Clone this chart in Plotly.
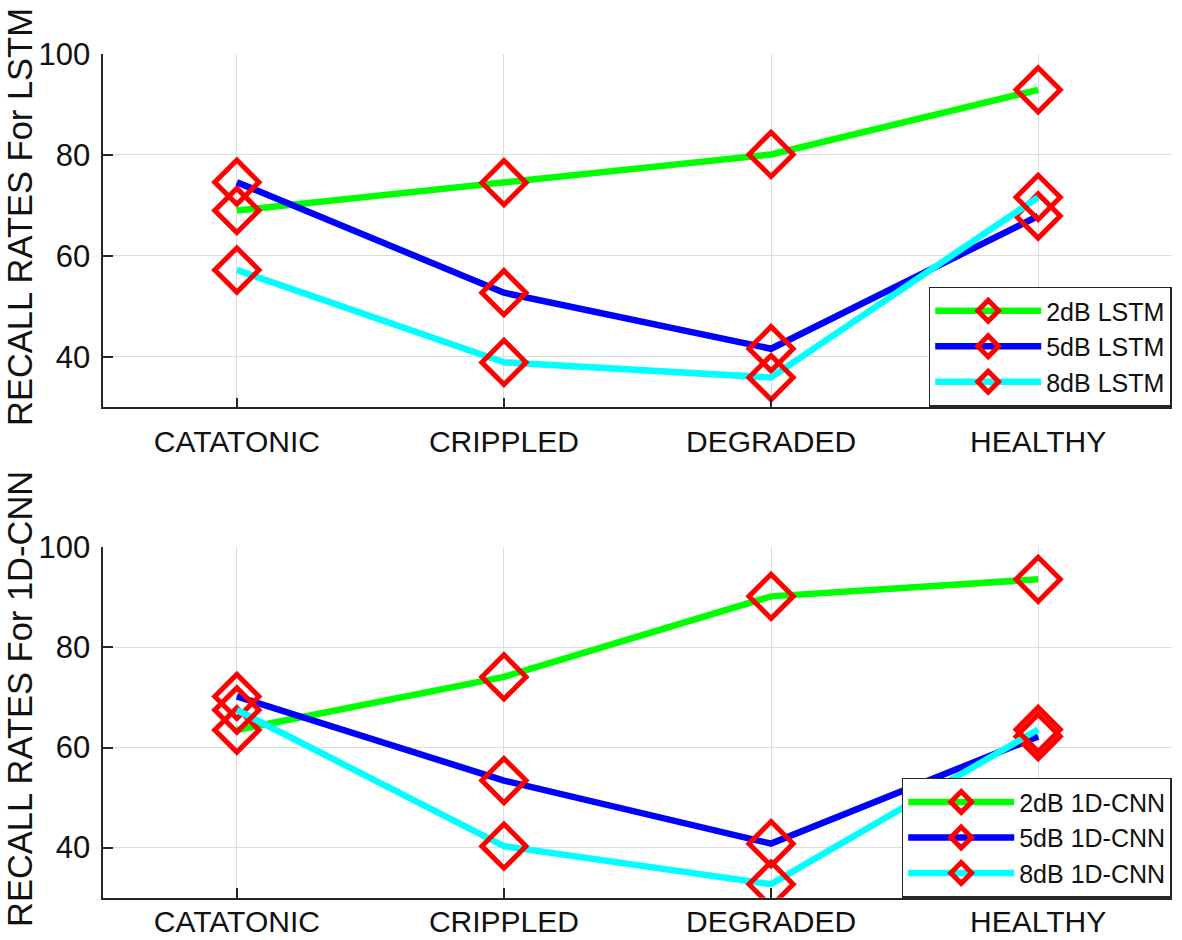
import plotly.graph_objects as go

categories = ["CATATONIC", "CRIPPLED", "DEGRADED", "HEALTHY"]

lstm_2db = [69.0, 74.5, 80.1, 92.9]
lstm_5db = [74.6, 52.7, 41.6, 67.9]
lstm_8db = [57.2, 38.9, 35.9, 71.6]

cnn_2db = [63.5, 74.1, 90.2, 93.6]
cnn_5db = [70.2, 53.4, 40.8, 62.2]
cnn_8db = [67.5, 40.3, 32.7, 63.6]

lstm_names = ["2dB LSTM", "5dB LSTM", "8dB LSTM"]
cnn_names = ["2dB 1D-CNN", "5dB 1D-CNN", "8dB 1D-CNN"]
line_colors = ["#00ff00", "#0000ff", "#00ffff"]

y_ticks = [40, 60, 80, 100]
y_titles = ["RECALL RATES For LSTM", "RECALL RATES For 1D-CNN"]

FONT = "Liberation Sans, Arial, Helvetica, sans-serif"
AX = "#262626"

fig = go.Figure()

for series, name, col in zip([lstm_2db, lstm_5db, lstm_8db], lstm_names, line_colors):
    fig.add_trace(go.Scatter(
        x=categories, y=series, name=name, mode="lines+markers",
        line=dict(color=col, width=6.5),
        marker=dict(symbol="diamond-open", size=34, color="#ff0000",
                    line=dict(width=5, color="#ff0000")),
        xaxis="x", yaxis="y", legend="legend",
    ))

for series, name, col in zip([cnn_2db, cnn_5db, cnn_8db], cnn_names, line_colors):
    fig.add_trace(go.Scatter(
        x=categories, y=series, name=name, mode="lines+markers",
        line=dict(color=col, width=6.5),
        marker=dict(symbol="diamond-open", size=34, color="#ff0000",
                    line=dict(width=5, color="#ff0000")),
        xaxis="x2", yaxis="y2", legend="legend2",
    ))

xdom = [103.3 / 1182, 1171.7 / 1182]
ydom_top = [1 - 407.3 / 940, 1 - 54 / 940]
ydom_bot = [1 - 897.7 / 940, 1 - 547.3 / 940]

xax = dict(
    domain=xdom, type="category", categoryorder="array", categoryarray=categories,
    range=[-0.5, 3.5], showline=True, linecolor=AX, linewidth=1.5,
    ticks="inside", ticklen=10, tickwidth=1.5, tickcolor=AX,
    showgrid=True, gridcolor="#dcdcdc", gridwidth=1.2, zeroline=False,
    tickfont=dict(family=FONT, size=30, color="#111111"),
    ticklabelstandoff=7, automargin=False, fixedrange=True,
)
yax = dict(
    range=[30, 100], tickvals=y_ticks, showline=True, linecolor=AX, linewidth=1.5,
    ticks="inside", ticklen=10, tickwidth=1.5, tickcolor=AX,
    showgrid=True, gridcolor="#dcdcdc", gridwidth=1.2, zeroline=False,
    tickfont=dict(family=FONT, size=31, color="#111111"),
    ticklabelstandoff=5, automargin=False, fixedrange=True,
)

legend_style = dict(
    font=dict(family=FONT, size=25, color="#111111"),
    bgcolor="white", bordercolor=AX, borderwidth=1.5,
    xanchor="right", yanchor="bottom", itemwidth=106,
    tracegroupgap=0,
)

fig.update_layout(
    width=1182, height=940,
    margin=dict(l=0, r=0, t=0, b=0),
    paper_bgcolor="white", plot_bgcolor="white",
    showlegend=True,
    xaxis=dict(xax, anchor="y"),
    yaxis=dict(yax, domain=ydom_top, anchor="x"),
    xaxis2=dict(xax, anchor="y2", ticklabelstandoff=-3),
    yaxis2=dict(yax, domain=ydom_bot, anchor="x2"),
    legend=dict(legend_style, x=1171.7 / 1182, y=1 - 406.5 / 940),
    legend2=dict(legend_style, x=1171.7 / 1182, y=1 - 897.7 / 940),
)

title_centers = [1 - 217 / 940, 1 - 699 / 940]
for txt, yc in zip(y_titles, title_centers):
    fig.add_annotation(
        text=txt, xref="paper", yref="paper", x=0, y=yc, borderpad=0,
        xanchor="left", yanchor="middle", textangle=-90, showarrow=False,
        font=dict(family=FONT, size=34.5, color="#111111"),
    )

fig.write_html(
    "out.html",
    config={"displayModeBar": False},
    post_script="document.body.style.margin='0';document.body.style.overflow='hidden';",
)
